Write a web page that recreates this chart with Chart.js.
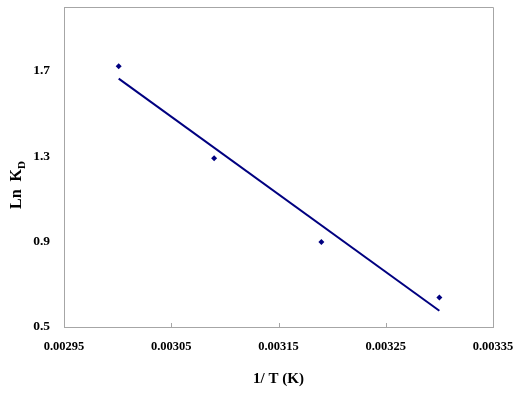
<!DOCTYPE html>
<html>
<head>
<meta charset="utf-8">
<script src="https://cdn.jsdelivr.net/npm/chart.js@4.4.1/dist/chart.umd.min.js"></script>
<style>
html,body{margin:0;padding:0;background:#fff;}
#wrap{width:524px;height:393px;}
</style>
</head>
<body>
<div id="wrap"><canvas id="c" width="524" height="393"></canvas></div>
<script>
// Data
const invT = [0.003001, 0.003090, 0.003190, 0.003300];
const lnKD = [1.722, 1.291, 0.899, 0.638];
const trendX = [0.003001, 0.003300];
const trendY = [1.664, 0.576];
const xTicks = [0.00295, 0.00305, 0.00315, 0.00325, 0.00335];
const yTicks = [0.5, 0.9, 1.3, 1.7];
const xTitle = '1/ T (K)';
const yTitleMain = 'Ln  K';
const yTitleSub = 'D';

const FONT = '"Liberation Serif", "Times New Roman", serif';
const NAVY = '#000080';
const AXIS = '#a6a6a6';

const innerTicks = {
  id: 'innerTicks',
  afterDatasetsDraw(chart) {
    const ctx = chart.ctx, x = chart.scales.x, a = chart.chartArea;
    ctx.save();
    ctx.strokeStyle = AXIS;
    ctx.lineWidth = 1;
    x.ticks.forEach((t, i) => {
      const px = Math.round(x.getPixelForTick(i)) + 0.5;
      ctx.beginPath();
      ctx.moveTo(px, a.bottom);
      ctx.lineTo(px, a.bottom - 4);
      ctx.stroke();
    });
    ctx.restore();
  }
};

const yTitlePlugin = {
  id: 'yTitle',
  afterDraw(chart) {
    const ctx = chart.ctx;
    ctx.save();
    ctx.translate(20.5, 185);
    ctx.rotate(-Math.PI / 2);
    ctx.fillStyle = '#000';
    ctx.textBaseline = 'alphabetic';
    ctx.textAlign = 'left';
    ctx.font = 'bold 16px ' + FONT;
    const w1 = ctx.measureText(yTitleMain).width;
    ctx.font = 'bold 11px ' + FONT;
    const w2 = ctx.measureText(yTitleSub).width;
    const start = -(w1 + w2) / 2;
    ctx.font = 'bold 16px ' + FONT;
    ctx.fillText(yTitleMain, start, 0);
    ctx.font = 'bold 11px ' + FONT;
    ctx.fillText(yTitleSub, start + w1, 4.5);
    ctx.restore();
  }
};

new Chart(document.getElementById('c'), {
  type: 'scatter',
  data: {
    datasets: [
      {
        label: 'data',
        data: invT.map((v, i) => ({x: v, y: lnKD[i]})),
        pointStyle: 'rectRot',
        pointRadius: 3,
        backgroundColor: NAVY,
        borderColor: NAVY,
        borderWidth: 0,
        showLine: false
      },
      {
        label: 'trend',
        data: trendX.map((v, i) => ({x: v, y: trendY[i]})),
        showLine: true,
        borderColor: NAVY,
        borderWidth: 2,
        pointRadius: 0,
        fill: false
      }
    ]
  },
  options: {
    responsive: false,
    animation: false,
    devicePixelRatio: 1,
    layout: {padding: {left: 0, right: 31, top: 7, bottom: 0}},
    plugins: {legend: {display: false}, tooltip: {enabled: false}},
    scales: {
      x: {
        type: 'linear',
        min: 0.00295,
        max: 0.00335,
        afterBuildTicks(s) { s.ticks = xTicks.map(v => ({value: v})); },
        afterFit(s) { s.height = 66; s.paddingLeft = 0; s.paddingRight = 0; },
        grid: {display: false, drawTicks: false},
        border: {display: true, color: AXIS, width: 1},
        ticks: {
          color: '#000',
          font: {family: FONT, size: 12.5, weight: 'bold'},
          padding: 12,
          maxRotation: 0,
          callback: v => v.toFixed(5)
        },
        title: {
          display: true,
          text: xTitle,
          color: '#000',
          font: {family: FONT, size: 15, weight: 'bold'},
          padding: {top: 4, bottom: 5}
        }
      },
      y: {
        type: 'linear',
        min: 0.5,
        max: 2.0,
        afterBuildTicks(s) { s.ticks = yTicks.map(v => ({value: v})); },
        afterFit(s) { s.width = 64; s.paddingTop = 0; s.paddingBottom = 0; },
        grid: {display: false, drawTicks: false},
        border: {display: true, color: AXIS, width: 1},
        ticks: {
          color: '#000',
          font: {family: FONT, size: 13.5, weight: 'bold'},
          padding: 14,
          callback: v => v.toFixed(1)
        }
      }
    }
  },
  plugins: [innerTicks, yTitlePlugin, {
    id: 'frame',
    afterDraw(chart) {
      const ctx = chart.ctx, a = chart.chartArea;
      ctx.save();
      ctx.strokeStyle = AXIS;
      ctx.lineWidth = 1;
      ctx.beginPath();
      ctx.moveTo(Math.round(a.left) + 0.5, Math.round(a.top) + 0.5);
      ctx.lineTo(Math.round(a.right) + 0.5, Math.round(a.top) + 0.5);
      ctx.lineTo(Math.round(a.right) + 0.5, Math.round(a.bottom) + 0.5);
      ctx.stroke();
      ctx.restore();
    }
  }]
});
</script>
</body>
</html>
